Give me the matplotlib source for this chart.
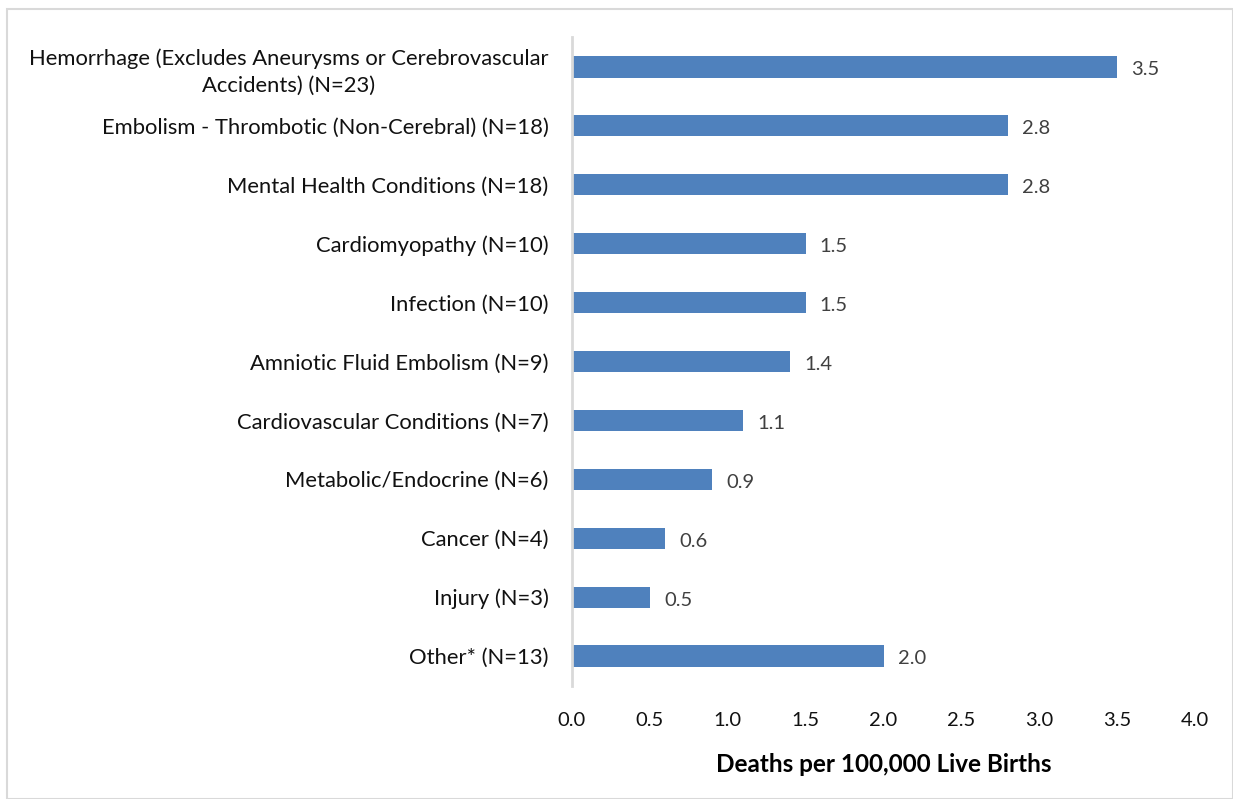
import matplotlib.pyplot as plt
from matplotlib.patches import Rectangle

# categories, top to bottom
categories = ['Hemorrhage (Excludes Aneurysms or Cerebrovascular\nAccidents) (N=23)',
              'Embolism - Thrombotic (Non-Cerebral) (N=18)',
              'Mental Health Conditions (N=18)',
              'Cardiomyopathy (N=10)',
              'Infection (N=10)',
              'Amniotic Fluid Embolism (N=9)',
              'Cardiovascular Conditions (N=7)',
              'Metabolic/Endocrine (N=6)',
              'Cancer (N=4)',
              'Injury (N=3)',
              'Other* (N=13)']
rates = [3.5, 2.8, 2.8, 1.5, 1.5, 1.4, 1.1, 0.9, 0.6, 0.5, 2.0]
xticks = [0.0, 0.5, 1.0, 1.5, 2.0, 2.5, 3.0, 3.5, 4.0]

plt.rcParams['font.family'] = ['Lato', 'DejaVu Sans']

fig = plt.figure(figsize=(12.33, 7.99), dpi=100)
#light border around the chart area
fig.patches.append(Rectangle((7/1233, 0), 1 - 7/1233, 1 - 9/799, transform=fig.transFigure,
                             fill=False, edgecolor='#D9D9D9', linewidth=1.5))

ax = fig.add_axes([572/1233, 1 - 685.5/799, (1195-572)/1233, (685.5-37.5)/799])

pos = list(range(len(categories)))
bars = ax.barh(pos, rates, height=0.36, color='#4F81BD')
ax.set_ylim(len(categories) - 0.5, -0.5)
ax.set_xlim(0, 4.0)

for p, v in zip(pos, rates):
    ax.text(v + 0.09, p + 0.05, '{:.1f}'.format(v), va='center', ha='left',
            fontsize=14.5, color='#404040')

ax.set_yticks(pos)
ax.set_yticklabels(categories, fontsize=15.8, color='#111111', ha='right',
                   multialignment='center', linespacing=1.4)
ax.set_xticks(xticks)
ax.set_xticklabels(['{:.1f}'.format(t) for t in xticks], fontsize=14.5, color='#111111')
ax.tick_params(axis='both', length=0)
ax.tick_params(axis='y', pad=17)
ax.tick_params(axis='x', pad=19)

for s in ['top', 'right', 'bottom']:
    ax.spines[s].set_visible(False)
ax.spines['left'].set_color('#D9D9D9')
ax.spines['left'].set_linewidth(2)

ax.set_xlabel('Deaths per 100,000 Live Births', fontsize=17.5, fontweight='bold', labelpad=17)

plt.savefig('out.png', dpi=100)
